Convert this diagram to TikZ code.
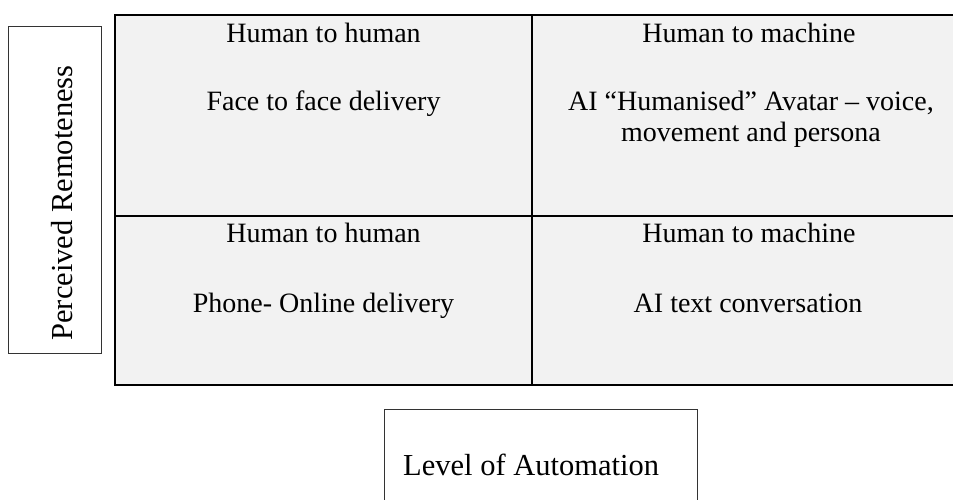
\documentclass[tikz,border=0pt]{standalone}
\usepackage{fontspec}
\setmainfont{Liberation Serif}
\definecolor{cellgray}{HTML}{F2F2F2}
\definecolor{boxline}{HTML}{333333}
\begin{document}
\begin{tikzpicture}[x=1pt,y=-1pt,
  cell/.style={draw=black,line width=2pt,fill=cellgray,inner sep=0pt},
  celltext/.style={font=\fontsize{28}{34}\selectfont,anchor=base,inner sep=0pt,align=center},
  labelbox/.style={draw=boxline,line width=1pt,fill=white,inner sep=0pt},
  labeltext/.style={font=\fontsize{30.5}{36}\selectfont,inner sep=0pt}]
\useasboundingbox (0,0) rectangle (953,499);
\clip (0,0) rectangle (953,499);
% left label box
\path[labelbox] (8,26) rectangle (101,353);
\node[labeltext,rotate=90,anchor=base] (rem) at (72,203) {Perceived Remoteness};
% quadrant cells
\node[cell,minimum width=417pt,minimum height=201pt] (tl) at (323.5,115.5) {};
\node[cell,minimum width=433pt,minimum height=201pt] (tr) at (748.5,115.5) {};
\node[cell,minimum width=417pt,minimum height=169pt] (bl) at (323.5,300.5) {};
\node[cell,minimum width=433pt,minimum height=169pt] (br) at (748.5,300.5) {};
% texts
\node[celltext] (tlt) at (323.5,42) {Human to human};
\node[celltext] (tlb) at (323.5,110) {Face to face delivery};
\node[celltext] (trt) at (749,42) {Human to machine};
\node[celltext] (trb1) at (751,110) {AI “Humanised” Avatar – voice,};
\node[celltext] (trb2) at (751,141) {movement and persona};
\node[celltext] (blt) at (323.5,242) {Human to human};
\node[celltext] (blb) at (323.5,312) {Phone- Online delivery};
\node[celltext] (brt) at (749,242) {Human to machine};
\node[celltext] (brb) at (748,312) {AI text conversation};
% bottom label box
\path[labelbox] (384,409) rectangle (697,520);
\node[labeltext,anchor=base west] (auto) at (403,475) {Level of Automation};
\end{tikzpicture}
\end{document}
